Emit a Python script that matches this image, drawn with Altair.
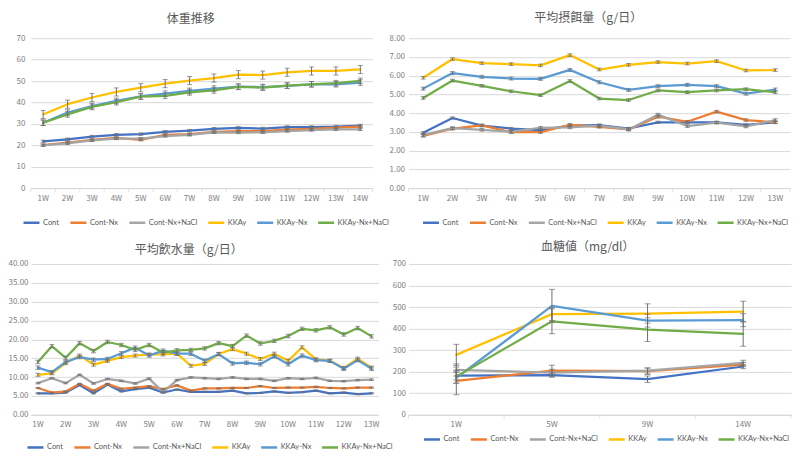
import altair as alt
import pandas as pd

SERIES = ["Cont", "Cont-Nx", "Cont-Nx+NaCl", "KKAy", "KKAy-Nx", "KKAy-Nx+NaCl"]
COLORS = ["#4472C4", "#ED7D31", "#A5A5A5", "#FFC000", "#5B9BD5", "#70AD47"]
FONT = "Noto Sans CJK JP"

# ---- 体重推移 ----
wt_weeks = ["1W", "2W", "3W", "4W", "5W", "6W", "7W", "8W", "9W", "10W", "11W", "12W", "13W", "14W"]
wt_cont = [21.8, 22.8, 24.0, 24.9, 25.2, 26.3, 26.8, 27.7, 28.1, 27.8, 28.5, 28.5, 28.7, 29.2]
wt_cont_nx = [20.1, 21.2, 22.5, 23.4, 22.5, 24.9, 25.2, 26.2, 26.6, 26.6, 27.3, 27.7, 28.2, 28.7]
wt_cont_nx_nacl = [20.0, 20.9, 22.3, 23.1, 23.1, 24.3, 24.8, 26.0, 25.9, 26.0, 26.6, 27.1, 27.4, 27.4]
wt_kkay = [34.4, 39.2, 42.3, 44.9, 46.9, 48.8, 50.2, 51.4, 53.0, 52.8, 54.1, 54.7, 54.7, 55.4]
wt_kkay_nx = [30.5, 35.3, 38.3, 40.7, 42.9, 44.1, 45.4, 46.5, 47.4, 47.2, 47.8, 48.5, 48.5, 49.3]
wt_kkay_nx_nacl = [30.5, 34.4, 37.9, 40.1, 42.7, 43.1, 44.7, 45.6, 47.3, 46.9, 47.9, 48.5, 49.0, 50.1]
wt_err = [0.6, 0.5, 0.5, 1.9, 1.3, 1.3]

# ---- 平均摂餌量 ----
fd_weeks = ["1W", "2W", "3W", "4W", "5W", "6W", "7W", "8W", "9W", "10W", "11W", "12W", "13W"]
fd_cont = [2.95, 3.74, 3.33, 3.18, 3.09, 3.33, 3.36, 3.18, 3.51, 3.51, 3.51, 3.38, 3.51]
fd_cont_nx = [2.79, 3.17, 3.35, 2.99, 2.99, 3.38, 3.27, 3.13, 3.81, 3.54, 4.08, 3.63, 3.51]
fd_cont_nx_nacl = [2.84, 3.20, 3.11, 3.01, 3.22, 3.24, 3.33, 3.13, 3.92, 3.31, 3.49, 3.29, 3.63]
fd_kkay = [5.89, 6.89, 6.67, 6.62, 6.55, 7.10, 6.33, 6.58, 6.73, 6.65, 6.78, 6.28, 6.30]
fd_kkay_nx = [5.31, 6.14, 5.94, 5.85, 5.83, 6.31, 5.65, 5.24, 5.44, 5.51, 5.44, 5.04, 5.26]
fd_kkay_nx_nacl = [4.81, 5.74, 5.46, 5.17, 4.96, 5.72, 4.78, 4.70, 5.21, 5.12, 5.21, 5.28, 5.12]
fd_err = [0.06, 0.07, 0.07, 0.07, 0.08, 0.07]

# ---- 平均飲水量 ----
wa_weeks = ["1W", "1.5W", "2W", "2.5W", "3W", "3.5W", "4W", "4.5W", "5W", "5.5W", "6W", "6.5W", "7W",
            "7.5W", "8W", "8.5W", "9W", "9.5W", "10W", "10.5W", "11W", "11.5W", "12W", "12.5W", "13W"]
wa_cont = [5.7, 5.7, 5.9, 7.9, 5.7, 8.0, 6.2, 6.8, 7.2, 5.9, 6.7, 6.1, 6.1,
           6.1, 6.4, 5.7, 5.8, 6.2, 5.8, 6.0, 6.4, 5.7, 5.9, 5.5, 5.7]
wa_cont_nx = [7.1, 5.9, 6.2, 8.2, 6.4, 8.2, 6.9, 7.2, 7.6, 6.8, 7.8, 6.4, 7.0,
              7.0, 7.1, 7.1, 7.6, 7.1, 7.2, 7.2, 7.4, 7.1, 7.0, 7.2, 7.2]
wa_cont_nx_nacl = [8.4, 9.7, 8.4, 10.6, 8.3, 9.5, 9.0, 8.3, 9.6, 6.0, 9.2, 9.9, 9.7,
                   9.5, 9.9, 9.5, 9.5, 9.0, 9.7, 9.5, 9.8, 9.0, 8.9, 9.2, 9.3]
wa_kkay = [10.6, 11.0, 13.7, 15.7, 13.3, 14.3, 15.3, 15.7, 16.0, 16.0, 16.2, 13.0, 13.5,
           16.1, 17.4, 16.2, 14.8, 16.2, 14.3, 17.9, 14.7, 14.3, 12.4, 14.9, 12.5]
wa_kkay_nx = [12.5, 11.3, 14.0, 15.3, 14.6, 14.8, 16.3, 17.8, 15.7, 17.0, 16.2, 16.2, 14.3,
              16.1, 13.6, 13.8, 13.4, 15.5, 13.4, 15.7, 14.5, 14.3, 12.2, 14.5, 12.2]
wa_kkay_nx_nacl = [14.0, 18.2, 15.1, 19.0, 16.9, 19.3, 18.5, 17.2, 18.5, 16.5, 17.1, 17.2, 17.6,
                   19.0, 18.2, 21.0, 18.9, 19.6, 20.9, 22.8, 22.4, 23.2, 21.3, 23.0, 20.8]
wa_err = [0.15, 0.15, 0.2, 0.4, 0.45, 0.45]

# ---- 血糖値 ----
gl_weeks = ["1W", "5W", "9W", "14W"]
gl_cont = [182, 184, 165, 224]
gl_cont_nx = [157, 205, 202, 233]
gl_cont_nx_nacl = [208, 196, 205, 241]
gl_kkay = [278, 467, 470, 479]
gl_kkay_nx = [171, 505, 437, 439]
gl_kkay_nx_nacl = [177, 434, 395, 375]
gl_err_cont = [20, 10, 15, 10]
gl_err_cont_nx = [64, 25, 15, 10]
gl_err_cont_nx_nacl = [28, 15, 12, 12]
gl_err_kkay = [49, 30, 45, 48]
gl_err_kkay_nx = [25, 77, 30, 30]
gl_err_kkay_nx_nacl = [30, 58, 55, 57]


def long_df(weeks, series_vals, series_errs):
    rows = []
    for s, vals, errs in zip(SERIES, series_vals, series_errs):
        if not isinstance(errs, list):
            errs = [errs] * len(vals)
        for w, v, e in zip(weeks, vals, errs):
            rows.append({"week": w, "series": s, "value": v, "err": e})
    return pd.DataFrame(rows)


df_wt = long_df(wt_weeks, [wt_cont, wt_cont_nx, wt_cont_nx_nacl, wt_kkay, wt_kkay_nx, wt_kkay_nx_nacl], wt_err)
df_fd = long_df(fd_weeks, [fd_cont, fd_cont_nx, fd_cont_nx_nacl, fd_kkay, fd_kkay_nx, fd_kkay_nx_nacl], fd_err)
df_wa = long_df(wa_weeks, [wa_cont, wa_cont_nx, wa_cont_nx_nacl, wa_kkay, wa_kkay_nx, wa_kkay_nx_nacl], wa_err)
df_gl = long_df(gl_weeks, [gl_cont, gl_cont_nx, gl_cont_nx_nacl, gl_kkay, gl_kkay_nx, gl_kkay_nx_nacl],
                [gl_err_cont, gl_err_cont_nx, gl_err_cont_nx_nacl, gl_err_kkay, gl_err_kkay_nx, gl_err_kkay_nx_nacl])


def panel(df, weeks, title, tdx, toffset, ymax, ystep, yfmt, ypad, w, h, lx, ly,
          label_expr=None, ticks=True, cap=5):
    base = alt.Chart(df).transform_calculate(lo="datum.value - datum.err", hi="datum.value + datum.err")
    xscale = alt.Scale(type="band", domain=weeks, paddingInner=0, paddingOuter=0)
    ax_kw = dict(title=None, labelAngle=0, ticks=False, grid=False, domain=True, labelPadding=6)
    if label_expr:
        ax_kw["labelExpr"] = label_expr
    xaxis = alt.Axis(**ax_kw)
    nvals = int(round(ymax / ystep))
    yvals = [ystep * i for i in range(nvals + 1)]
    yscale = alt.Scale(domain=[0, ymax], nice=False, zero=True)
    yaxis = alt.Axis(title=None, values=yvals, format=yfmt, grid=True, domain=False, ticks=False,
                     labelPadding=ypad)

    def X(bp=0.5):
        return alt.X("week:N", scale=xscale, axis=xaxis, bandPosition=bp, sort=weeks)

    line = base.mark_line(strokeWidth=2.25, strokeCap="round", strokeJoin="round").encode(
        x=X(),
        y=alt.Y("value:Q", scale=yscale, axis=yaxis),
        color=alt.Color("series:N", scale=alt.Scale(domain=SERIES, range=COLORS),
                        legend=alt.Legend(title=None, orient="none", legendX=lx, legendY=ly,
                                          direction="horizontal", columns=6)),
        detail="series:N",
    )
    rule = base.mark_rule(color="#6f6f6f", strokeWidth=1).encode(
        x=X(), y=alt.Y("lo:Q", scale=yscale, axis=yaxis), y2="hi:Q",
    )
    caps = base.transform_fold(["lo", "hi"], as_=["k", "capv"]).mark_tick(
        color="#6f6f6f", thickness=1, size=cap, orient="horizontal").encode(
        x=X(), y=alt.Y("capv:Q", scale=yscale, axis=yaxis),
    )
    layers = [line, rule, caps]
    if ticks:
        wk = pd.DataFrame({"week": weeks})
        tk0 = alt.Chart(wk).mark_tick(orient="vertical", size=4, thickness=1, color="#d9d9d9", yOffset=2).encode(
            x=X(0), y=alt.Y(datum=0, type="quantitative", scale=yscale, axis=yaxis))
        tk1 = alt.Chart(wk.tail(1)).mark_tick(orient="vertical", size=4, thickness=1, color="#d9d9d9",
                                              yOffset=2).encode(
            x=X(1), y=alt.Y(datum=0, type="quantitative", scale=yscale, axis=yaxis))
        layers = [tk0, tk1] + layers
    return alt.layer(*layers).properties(
        width=w, height=h,
        title=alt.TitleParams(title, dx=tdx, offset=toffset, anchor="middle", frame="group"),
    )


tl = panel(df_wt, wt_weeks, "体重推移", -11, 8, 70, 10, "d", 6, 342, 150, -9, 175)
tr = panel(df_fd, fd_weeks, "平均摂餌量（g/日）", -11, 9, 8, 1, ".2f", 4, 382, 150, 13, 175)
bl = panel(df_wa, wa_weeks, "平均飲水量（g/日）", -16, 3, 40, 5, ".2f", 3, 348, 151, -5, 174,
           label_expr="indexof(datum.label, '.') >= 0 ? '' : datum.label", ticks=False)
br = panel(df_gl, gl_weeks, "血糖値（mg/dl）", -12, 6, 700, 100, "d", 3, 383, 151, 14, 166, cap=6)

chart = alt.concat(tl, tr, bl, br, columns=2, spacing={"row": 76, "column": 30}).resolve_scale(
    color="independent", x="independent", y="independent").resolve_legend(color="independent").properties(
    align="each", bounds="flush",
    padding={"left": 0, "top": 4, "right": 0, "bottom": 0}, background="white"
).configure_view(stroke=None).configure_axis(
    labelFont=FONT, labelFontSize=8, labelColor="#808080", gridColor="#d9d9d9", gridWidth=1,
    domainColor="#d9d9d9", tickColor="#d9d9d9",
).configure_legend(
    labelFont="Lato", labelFontSize=7.5, labelColor="#595959", symbolType="stroke", symbolSize=256,
    symbolStrokeWidth=2.5, columnPadding=5, labelOffset=2, padding=0,
).configure_title(
    font=FONT, fontSize=12, color="#595959", fontWeight="normal",
)

chart.save("out.html", embed_options={"renderer": "svg", "actions": False})
